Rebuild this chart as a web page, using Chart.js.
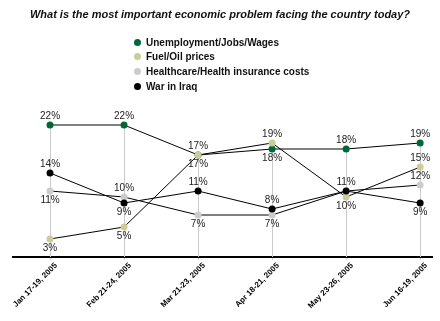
<!DOCTYPE html>
<html>
<head>
<meta charset="utf-8">
<script src="https://cdn.jsdelivr.net/npm/chart.js@4.4.1/dist/chart.umd.min.js"></script>
<style>
  body { margin: 0; background: #fff; }
  #wrap { position: relative; width: 440px; height: 321px; overflow: hidden; }
  #chart { position: absolute; left: 0; top: 0; }
  #title { position: absolute; left: 0; top: 8px; width: 440px; text-align: center;
    font: italic bold 11px Arial, "Liberation Sans", sans-serif; color: #111; }
  #legend { position: absolute; left: 134px; top: 35px;
    font: bold 10px Arial, "Liberation Sans", sans-serif; color: #111; }
  .item { height: 14.6px; display: flex; align-items: center; }
  .dot { width: 7px; height: 7px; border-radius: 50%; margin-right: 5px; }
</style>
</head>
<body>
<div id="wrap">
  <canvas id="chart" width="440" height="321"></canvas>
  <div id="title">What is the most important economic problem facing the country today?</div>
  <div id="legend"></div>
</div>
<script>
// data
const dates = ['Jan 17-19, 2005', 'Feb 21-24, 2005', 'Mar 21-23, 2005', 'Apr 18-21, 2005', 'May 23-26, 2005', 'Jun 16-19, 2005'];
const seriesNames = ['Unemployment/Jobs/Wages', 'Fuel/Oil prices', 'Healthcare/Health insurance costs', 'War in Iraq'];
const unemployment = [22, 22, 17, 18, 18, 19];
const fuel = [3, 5, 17, 19, 10, 15];
const healthcare = [11, 10, 7, 7, 11, 12];
const iraq = [14, 9, 11, 8, 11, 9];

const colors = ['#006838', '#cccc99', '#cccccc', '#000000'];
// where each value label sits: a = above, b = below, '' = hidden
const labelSide = [
  ['a', 'a', 'a', 'b', 'a', 'a'],
  ['b', 'b', 'b', 'a', 'b', 'a'],
  ['b', 'a', 'b', 'b', '', 'a'],
  ['a', 'b', 'a', 'a', 'a', 'b']
];
const drawOrder = [3, 1, 2, 0];

const FONT = 'Arial, "Liberation Sans", sans-serif';

// html legend
const legend = document.getElementById('legend');
seriesNames.forEach((name, i) => {
  const row = document.createElement('div');
  row.className = 'item';
  row.innerHTML = `<span class="dot" style="background:${colors[i]}"></span><span>${name}</span>`;
  legend.appendChild(row);
});

// grey drop line from the top point of each date down to the axis
const dropLines = {
  id: 'dropLines',
  beforeDatasetsDraw(chart) {
    const { ctx, scales: { x, y }, chartArea } = chart;
    ctx.save();
    ctx.strokeStyle = '#cccccc';
    ctx.lineWidth = 1;
    dates.forEach((d, i) => {
      const top = Math.max(...chart.data.datasets.map(ds => ds.data[i].y));
      const px = Math.round(x.getPixelForValue(i)) + 0.5;
      ctx.beginPath();
      ctx.moveTo(px, y.getPixelForValue(top));
      ctx.lineTo(px, chartArea.bottom);
      ctx.stroke();
    });
    ctx.restore();
  }
};

const valueLabels = {
  id: 'valueLabels',
  afterDatasetsDraw(chart) {
    const { ctx } = chart;
    ctx.save();
    ctx.font = '10px ' + FONT;
    ctx.fillStyle = '#222';
    ctx.textAlign = 'center';
    ctx.textBaseline = 'middle';
    chart.data.datasets.forEach((ds, di) => {
      chart.getDatasetMeta(di).data.forEach((pt, i) => {
        const side = labelSide[di][i];
        if (!side) return;
        ctx.fillText(ds.data[i].y + '%', pt.x, side === 'a' ? pt.y - 9 : pt.y + 9.5);
      });
    });
    ctx.restore();
  }
};

const series = [unemployment, fuel, healthcare, iraq];

new Chart(document.getElementById('chart'), {
  type: 'line',
  data: {
    datasets: series.map((vals, i) => ({
      label: seriesNames[i],
      data: vals.map((v, j) => ({ x: j, y: v })),
      borderColor: '#000',
      borderWidth: 1,
      pointRadius: 3.5,
      pointBorderWidth: 0,
      pointBackgroundColor: colors[i],
      pointBorderColor: colors[i],
      tension: 0,
      order: drawOrder[i]
    }))
  },
  options: {
    responsive: false,
    animation: false,
    layout: { padding: { top: 101, left: 13, right: 8, bottom: 0 } },
    plugins: { legend: { display: false }, tooltip: { enabled: false } },
    scales: {
      x: {
        type: 'linear',
        min: -0.5,
        max: 5.16,
        afterBuildTicks: s => { s.ticks = dates.map((d, i) => ({ value: i })); },
        afterFit: s => { s.height = 64; },
        border: { display: true, color: '#000', width: 2 },
        grid: { drawOnChartArea: false, color: '#cccccc', tickLength: 3 },
        ticks: {
          autoSkip: false,
          minRotation: 45,
          maxRotation: 45,
          padding: 1,
          labelOffset: 6,
          color: '#000',
          font: { family: FONT, size: 8, weight: 'bold' },
          callback: v => dates[v]
        }
      },
      y: { display: false, min: 0, max: 26 }
    }
  },
  plugins: [dropLines, valueLabels]
});
</script>
</body>
</html>
